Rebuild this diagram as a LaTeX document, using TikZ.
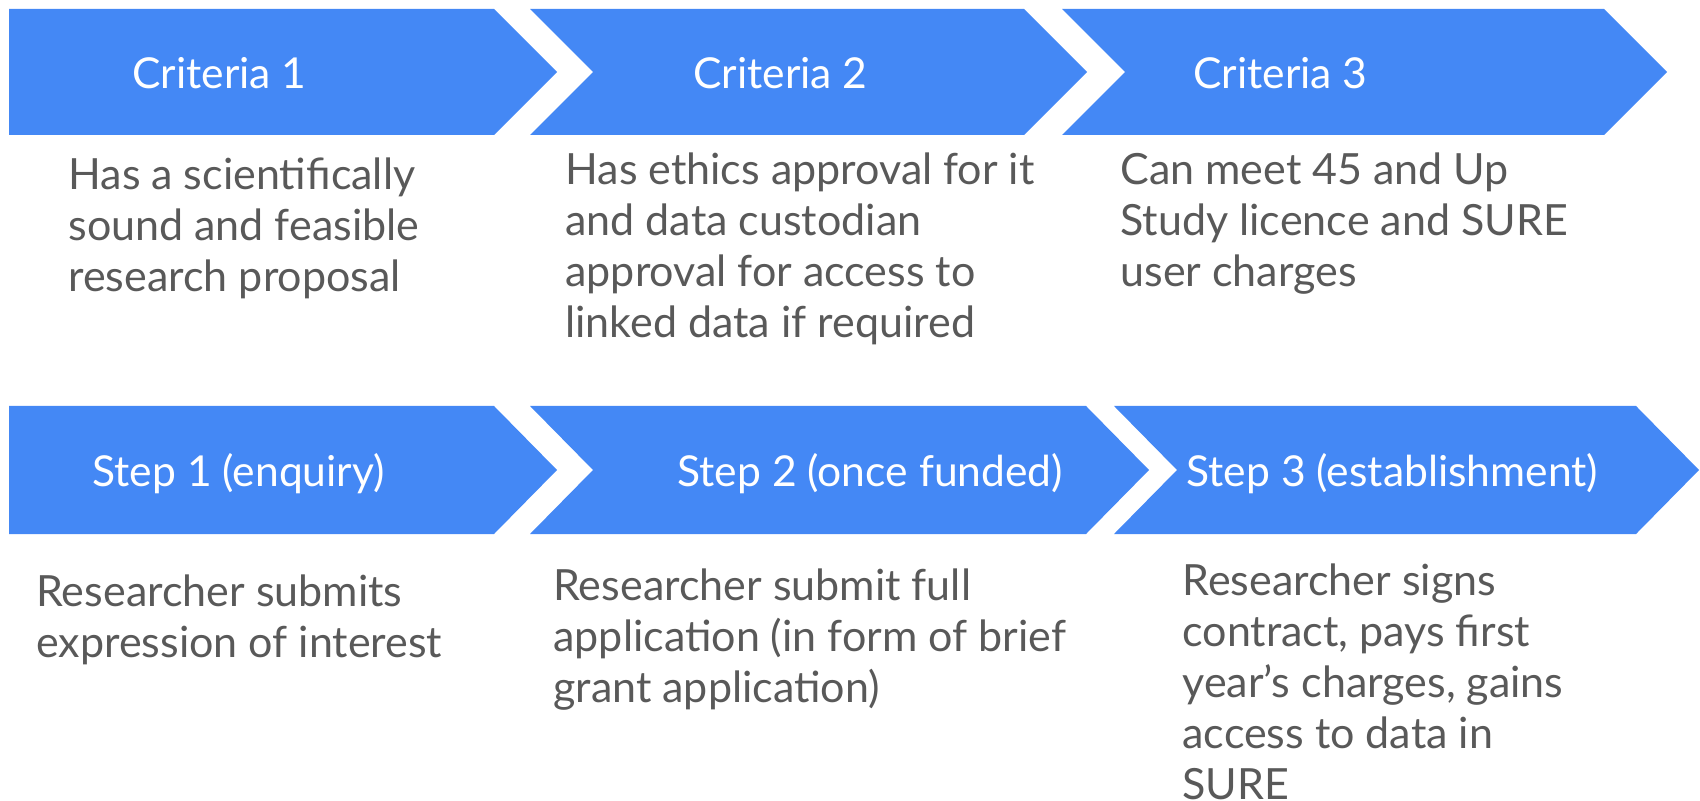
\documentclass[tikz,border=0pt]{standalone}
\usepackage{fontspec}
\setmainfont{Lato}
\definecolor{chev}{HTML}{4488F5}
\definecolor{bodytxt}{HTML}{595959}
\newcommand{\lines}[1]{\begin{tabular}[t]{@{}l@{}}#1\end{tabular}}
\tikzset{
  chevron/.style={fill=chev, draw=none},
  head/.style={anchor=base west, inner sep=0pt, text=white, font=\fontsize{21.3}{25.5}\selectfont},
  bodytext/.style={anchor=base west, inner sep=0pt, text=bodytxt, font=\fontsize{21.5}{25.5}\selectfont},
}
\begin{document}
\begin{tikzpicture}[x=0.5pt,y=-0.5pt]
\useasboundingbox (0,0) rectangle (1700,801);
% top row chevrons
\fill[chevron] (9,9) -- (494,9) -- (557,72) -- (494,135) -- (9,135) -- cycle;
\fill[chevron] (530,9) -- (1024,9) -- (1087,72) -- (1024,135) -- (530,135) -- (593,72) -- cycle;
\fill[chevron] (1062,9) -- (1604,9) -- (1667,72) -- (1604,135) -- (1062,135) -- (1125,72) -- cycle;
% bottom row chevrons
\fill[chevron] (9,406) -- (494,406) -- (557,470) -- (494,534) -- (9,534) -- cycle;
\fill[chevron] (530,406) -- (1086,406) -- (1149,470) -- (1086,534) -- (530,534) -- (593,470) -- cycle;
\fill[chevron] (1114,406) -- (1636,406) -- (1699,470) -- (1636,534) -- (1114,534) -- (1177,470) -- cycle;
% headings
\node[head] (c1) at (132,89) {Criteria 1};
\node[head] (c2) at (693,89) {Criteria 2};
\node[head] (c3) at (1193,89) {Criteria 3};
\node[head] (s1) at (92,487) {Step 1 (enquiry)};
\node[head] (s2) at (677,487) {Step 2 (once funded)};
\node[head] (s3) at (1186,487) {Step 3 (establishment)};
% body texts
\node[bodytext] (t1) at (68,190) {\lines{Has a scientifically\\sound and feasible\\research proposal}};
\node[bodytext] (t2) at (565,185) {\lines{Has ethics approval for it\\and data custodian\\approval for access to\\linked data if required}};
\node[bodytext] (t3) at (1120,185) {\lines{Can meet 45 and Up\\Study licence and SURE\\user charges}};
\node[bodytext] (b1) at (36,606) {\lines{Researcher submits\\expression of interest}};
\node[bodytext] (b2) at (553,600) {\lines{Researcher submit full\\application (in form of brief\\grant application)}};
\node[bodytext] (b3) at (1182,595) {\lines{Researcher signs\\contract, pays first\\year’s charges, gains\\access to data in\\SURE}};
\end{tikzpicture}
\end{document}
